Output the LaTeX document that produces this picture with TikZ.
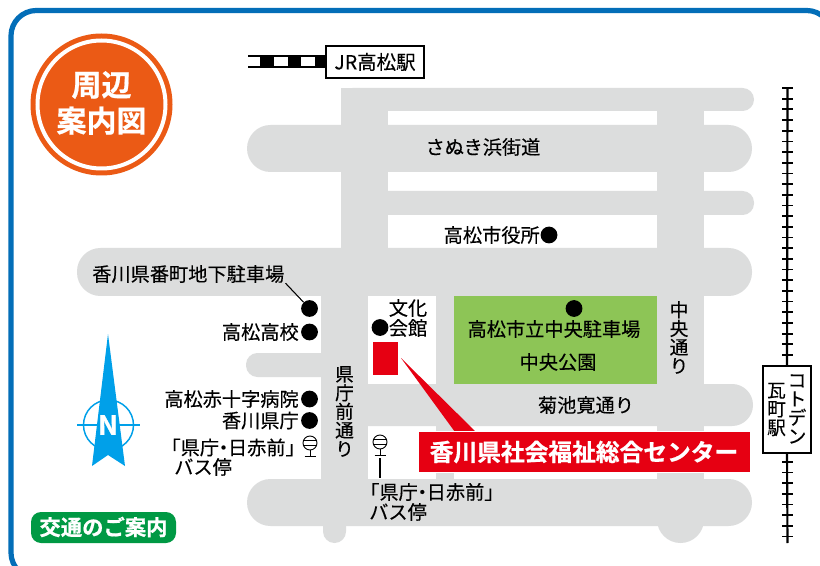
\documentclass[tikz,border=0pt]{standalone}
\usepackage{fontspec}
\setmainfont{Noto Sans CJK JP}
\newfontface\medf[FakeBold=0.25]{Noto Sans CJK JP}
\newfontface\heavyf[FakeBold=0.7]{Noto Sans CJK JP Bold}
\definecolor{roadgray}{HTML}{DCDDDD}
\definecolor{frameblue}{HTML}{036EB8}
\definecolor{badgeorange}{HTML}{EB5A15}
\definecolor{parkgreen}{HTML}{8DC556}
\definecolor{signred}{HTML}{E60012}
\definecolor{compassblue}{HTML}{00A0E9}
\definecolor{tagreen}{HTML}{009944}
\newcommand{\nkdot}{\kern-0.27em・\kern-0.27em}
\setlength{\lineskiplimit}{-20pt}
\tikzset{
  road/.style={fill=roadgray,draw=none},
  lab/.style={inner sep=0pt,font=\medf\fontsize{14.4}{15}\selectfont,text=black},
  vlab/.style={inner sep=0pt,align=center,text=black,font=\medf\fontsize{14}{14}\selectfont},
  dot/.style={circle,fill=black,inner sep=0pt,minimum size=12.6pt},
  boldlab/.style={inner sep=0pt,text=white},
  leader/.style={draw=black,line width=0.8pt},
  rail/.style={draw=black,line width=1.6pt},
  tie/.style={draw=black,line width=1.3pt},
  stationbox/.style={draw=black,fill=white,line width=1.4pt,inner sep=0pt},
  busstop/.pic={
    \draw[black,line width=0.7pt,fill=white] (0,0) circle[radius=7];
    \draw[black,line width=0.7pt] (-7,-2.2) -- (7,-2.2) (-7,2.2) -- (7,2.2);
    \draw[black,line width=0.7pt] (0,7) -- (0,13) (-5.5,13) -- (5.5,13);
  }
}
\begin{document}
\begin{tikzpicture}[x=0.75pt,y=-0.75pt]
\useasboundingbox (0,0) rectangle (820,566);
\clip (0,0) rectangle (820,566);
\fill[white] (0,0) rectangle (820,566);
% frame
\draw[frameblue,line width=3.9pt,rounded corners=19pt] (11,10.5) rectangle (832,578);
% roads
\fill[road,rounded corners=8.6pt] (341,88) rectangle (754,111);
\fill[road,rounded corners=8.6pt] (341,191) rectangle (754,215);
\fill[road,rounded corners=17.6pt] (247,125) rectangle (752,172);
\fill[road,rounded corners=17.6pt] (77,248) rectangle (752,296);
\fill[road,rounded corners=8.6pt] (246,353) rectangle (340,377);
\fill[road,rounded corners=15.7pt] (321,384) rectangle (753,426);
\fill[road,rounded corners=17.6pt] (247,479) rectangle (752,526);
\fill[road] (341,88) rectangle (388,296);
\fill[road] (321,296) rectangle (368,526);
\fill[road] (436,296) rectangle (454,479);
\fill[road] (657,88) rectangle (704,520);
\fill[road] (680.5,519.5) circle[radius=23.5];
\fill[road,rounded corners=8.6pt] (323,500) rectangle (346,543);
% park
\fill[parkgreen] (454,296) rectangle (657,384);
% target
\fill[signred] (373,342) rectangle (398,375);
\fill[signred] (401,358) -- (476,432) -- (455,432) -- cycle;
% JR
\fill[black] (248,55) rectangle (326,68);
\fill[white] (248,57.3) rectangle (260,65.7);
\fill[white] (273.5,57.3) rectangle (287.5,65.7);
\fill[white] (301,57.3) rectangle (315,65.7);
\node[stationbox,minimum width=73pt,minimum height=24.5pt,font=\medf\fontsize{14.6}{15}\selectfont] (jr) at (375,62) {JR高松駅};
% right rail
\coordinate (railtop) at (787.5,88);
\coordinate (railbot) at (787.5,543);
\foreach \i in {0,...,42} {\draw[tie] (782,88+\i*10.68) -- (793,88+\i*10.68);}
\node[stationbox,minimum width=36pt,minimum height=65pt] (kawara) at (787,409.5) {};
\draw[rail] (railtop) -- (kawara.north);
\draw[rail] (kawara.south) -- (railbot);
\node[vlab] (kotoden) at (797,409) {コ\\ト\\デ\\ン};
\node[vlab] (machi) at (776.5,409.5) {瓦\\町\\駅};
% badge
\fill[badgeorange] (101.5,104.5) circle[radius=71];
\draw[white,line width=3pt] (101.5,104.5) circle[radius=64];
\node[boldlab,align=center,font=\heavyf\fontsize{22.5}{27}\selectfont] (badge) at (101.5,103) {周辺\\案内図};
% compass
\draw[compassblue,line width=1.1pt,fill=white] (108.5,425) circle[radius=25];
\draw[compassblue,line width=1.1pt] (77,425) -- (140,425);
\fill[compassblue] (108,334) -- (125,466) -- (108,455) -- (92,466) -- cycle;
\node[boldlab,font=\heavyf\fontsize{20}{20}\selectfont] (north) at (108,425) {N};
% green tag
\fill[tagreen,rounded corners=7.5pt] (31,512) rectangle (176,543);
\node[boldlab,font=\heavyf\fontsize{16}{18}\selectfont] (tag) at (103.5,527) {交通のご案内};
% labels
\node[lab] (sanuki) at (483,147) {さぬき浜街道};
\node[lab,anchor=east] (yakusho) at (540,235) {高松市役所};
\node[dot] (yakushod) at (549,235) {};
\node[lab,anchor=west] (chikachu) at (92,274) {香川県番町地下駐車場};
\node[dot] (chikad) at (309.5,308.5) {};
\draw[leader] (chikachu.south east) ++(1,0) coordinate (ls) -- (chikad);
\node[dot] (koukoud) at (309.5,332) {};
\node[lab,anchor=east] (koukou) at (299,332) {高松高校};
\node[dot] (sekid) at (309.5,399) {};
\node[lab,anchor=east] (seki) at (299,399) {高松赤十字病院};
\node[dot] (kenchod) at (309.5,420.5) {};
\node[lab,anchor=east] (kencho) at (299,420.5) {香川県庁};
\node[lab,anchor=east] (bus1) at (305,447.5) {「県庁\nkdot 日赤前」};
\node[lab,anchor=west] (bus1b) at (174,467) {バス停};
\pic at (310,443) {busstop};
\pic at (380,442) {busstop};
\coordinate (bs2) at (380,458);
\coordinate (bs2b) at (380,478);
\node[lab,anchor=west] (bus2) at (360,492) {「県庁\nkdot 日赤前」};
\node[lab,anchor=west] (bus2b) at (369,512) {バス停};
\draw[leader] (bs2) -- (bs2b);
\node[vlab] (kenmae) at (344.5,411.5) {県\\庁\\前\\通\\り};
\node[vlab] (chuodori) at (679,337.5) {中\\央\\通\\り};
\node[dot] (bunkad) at (380,327.5) {};
\node[lab,align=center,font=\medf\fontsize{14.4}{15}\selectfont] (bunka) at (408,318) {文化\\会館};
\node[dot] (parkd) at (574,308.5) {};
\node[lab] (parking) at (554,329) {高松市立中央駐車場};
\node[lab] (park) at (558,362) {中央公園};
\node[lab] (kikuchi) at (586,405) {菊池寛通り};
% sign
\node[fill=signred,draw=white,line width=0.4pt,minimum width=249pt,minimum height=31pt,inner sep=0pt,text=white,font=\heavyf\fontsize{17.8}{19}\selectfont] (center) at (584,452) {香川県社会福祉総合センター};
\end{tikzpicture}
\end{document}
